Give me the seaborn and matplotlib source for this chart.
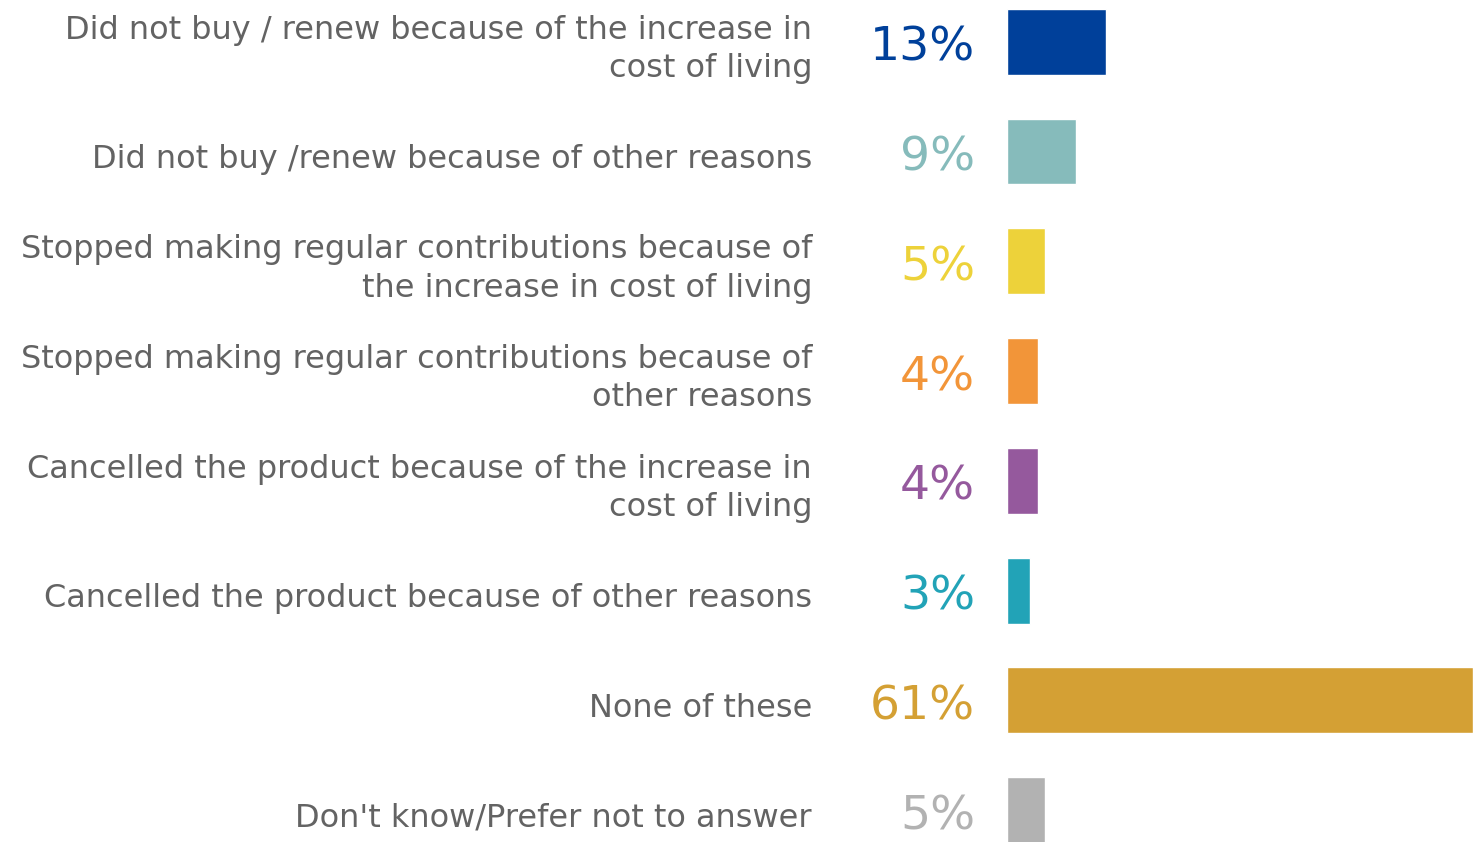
import matplotlib
matplotlib.use("Agg")
import matplotlib.pyplot as plt
import seaborn as sns
import pandas as pd
from matplotlib.transforms import blended_transform_factory, offset_copy

categories = [
    "Did not buy / renew because of the increase in\ncost of living",
    "Did not buy /renew because of other reasons",
    "Stopped making regular contributions because of\nthe increase in cost of living",
    "Stopped making regular contributions because of\nother reasons",
    "Cancelled the product because of the increase in\ncost of living",
    "Cancelled the product because of other reasons",
    "None of these",
    "Don't know/Prefer not to answer",
]
values = [13, 9, 5, 4, 4, 3, 61, 5]
colors = ["#00409A", "#86BBBB", "#EDD23A", "#F29539", "#95599D", "#22A3B7", "#D4A034", "#B2B2B2"]

df = pd.DataFrame({"category": categories, "value": values})

sns.set_theme(style="white")
plt.rcParams["font.family"] = ["DejaVu Sans"]

W, H = 1473, 842
fig = plt.figure(figsize=(W / 100, H / 100), dpi=100)
ax = fig.add_axes([1007 / W, 0, 466 / W, 1])

sns.barplot(data=df, x="value", y="category", hue="category", palette=colors,
            legend=False, width=0.6, ax=ax, saturation=1, orient="h")

ax.set_xlim(0, 61)
ax.set_ylim(7.29, -0.38)
ax.set_xlabel("")
ax.set_ylabel("")
ax.set_xticks([])
ax.set_yticks([])
for s in ax.spines.values():
    s.set_visible(False)

# category labels right-aligned to the left of the value labels
cat_trans = offset_copy(blended_transform_factory(ax.transAxes, ax.transData),
                        fig=fig, x=-195, y=0, units="dots")
val_trans = offset_copy(blended_transform_factory(ax.transAxes, ax.transData),
                        fig=fig, x=-32, y=0, units="dots")
for i, (cat, v, c) in enumerate(zip(categories, values, colors)):
    ax.text(0, i + 0.07, cat, transform=cat_trans, ha="right", va="center",
            fontsize=23, color="#636363", linespacing=1.3)
    ax.text(0, i + 0.06, f"{v}%", transform=val_trans, ha="right", va="center",
            fontsize=34, color=c)

fig.savefig("out.png", dpi=100)
